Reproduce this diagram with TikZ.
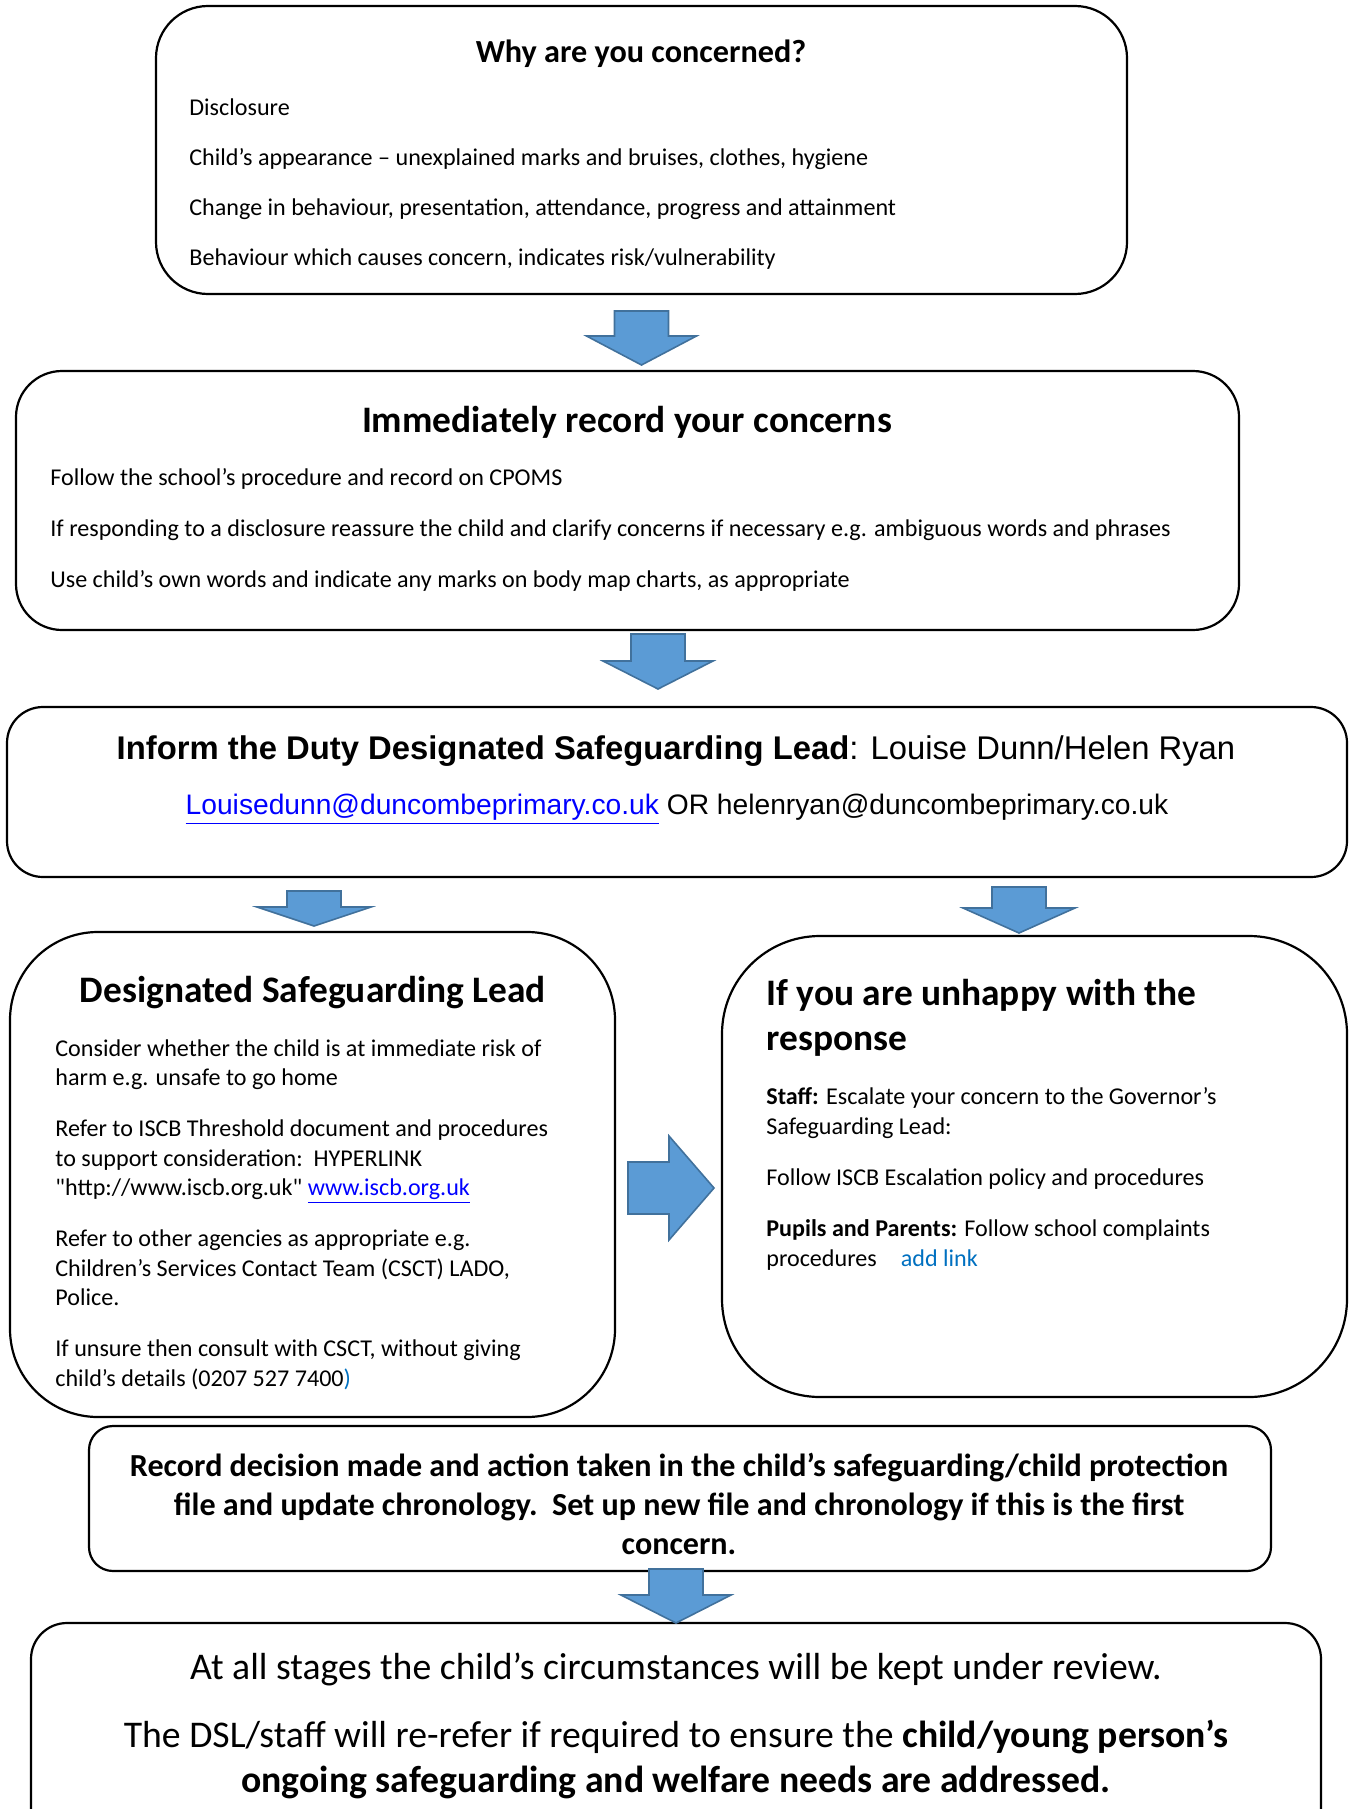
\documentclass[tikz,border=0pt]{standalone}
\usepackage{fontspec}
\setmainfont{Carlito}[Ligatures=TeXOff]
\newfontfamily\arialfont{Liberation Sans}
\usetikzlibrary{positioning,fit,calc}
\definecolor{arrowblue}{RGB}{91,155,213}
\definecolor{arrowedge}{RGB}{65,113,156}
\definecolor{linkblue}{RGB}{0,0,255}
\definecolor{addlink}{RGB}{0,112,192}
\tikzset{
 box/.style={draw=black,line width=1.1pt,inner sep=0pt,outer sep=0pt},
 body/.style={anchor=west,align=left,inner sep=0pt,font=\fontsize{12.05}{14.75}\selectfont},
 head/.style={inner sep=0pt,font=\fontsize{18.7}{22.5}\selectfont\bfseries},
 arr/.style={fill=arrowblue,draw=arrowedge,line width=0.8pt,line join=miter},
 pics/downarr/.style n args={3}{code={\draw[arr] (-27,0) -- (27,0) -- (27,#1) -- (#3,#1) -- (0,#2) -- (-#3,#1) -- (-27,#1) -- cycle;}},
 pics/rightarr/.style={code={\draw[arr] (0,-26) -- (41,-26) -- (41,-52) -- (86,0) -- (41,52) -- (41,26) -- (0,26) -- cycle;}}
}
\begin{document}
\begin{tikzpicture}[x=0.5pt,y=-0.5pt]
\useasboundingbox (0,0) rectangle (1352,1809);
\node[box,rounded corners=26pt,fit={(156,6) (1127,294)}] (why) {};
\node[inner sep=0pt,font=\fontsize{16.1}{19}\selectfont\bfseries] (whyT) at (641,54) {Why are you concerned?};
\node[body,font=\fontsize{12.05}{25}\selectfont] (whyB) at (189,184.5) {Disclosure\\Child’s appearance – unexplained marks and bruises, clothes, hygiene\\Change in behaviour, presentation, attendance, progress and attainment\\Behaviour which causes concern, indicates risk/vulnerability};

\node[box,rounded corners=23pt,fit={(16,371) (1239,630)}] (rec) {};
\node[head] (recT) at (627,422) {Immediately record your concerns};
\node[body,font=\fontsize{12.05}{25.5}\selectfont] (recB) at (50,530) {Follow the school’s procedure and record on CPOMS\\If responding to a disclosure reassure the child and clarify concerns if necessary e.g. ambiguous words and phrases\\Use child’s own words and indicate any marks on body map charts, as appropriate};

\node[box,rounded corners=18pt,fit={(7,707) (1347,877)}] (inform) {};
\node[inner sep=0pt,font=\arialfont\fontsize{16.4}{20}\selectfont] (informT) at (676,751.5) {\textbf{Inform the Duty Designated Safeguarding Lead}: Louise Dunn/Helen Ryan};
\node[inner sep=0pt,font=\arialfont\fontsize{14.1}{17}\selectfont] (informE) at (677,809.5) {\textcolor{linkblue}{\underline{Louisedunn@duncombeprimary.co.uk}} OR helenryan@duncombeprimary.co.uk};

\node[box,rounded corners=44pt,fit={(10,932) (615,1417)}] (dsl) {};
\node[head] (dslT) at (313,993) {Designated Safeguarding Lead};
\node[body] (dslB) at (55,1214.5) {Consider whether the child is at immediate risk of\\harm e.g. unsafe to go home\\[10.75pt]Refer to ISCB Threshold document and procedures\\to support consideration:\ \ HYPERLINK\\"http://www.iscb.org.uk" \textcolor{linkblue}{\underline{www.iscb.org.uk}}\\[10.75pt]Refer to other agencies as appropriate e.g.\\Children’s Services Contact Team (CSCT) LADO,\\Police.\\[10.75pt]If unsure then consult with CSCT, without giving\\child’s details (0207 527 7400\textcolor{addlink}{)}};

\node[box,rounded corners=49pt,fit={(722,936) (1347,1397)}] (unhappy) {};
\node[head,anchor=west,align=left] (unhappyT) at (766,1018) {If you are unhappy with the\\response};
\node[body,font=\fontsize{12.05}{15}\selectfont] (unhappyB) at (766,1178.5) {\textbf{Staff:} Escalate your concern to the Governor’s\\Safeguarding Lead:\\[10.5pt]Follow ISCB Escalation policy and procedures\\[10.5pt]\textbf{Pupils and Parents:} Follow school complaints\\procedures\quad\textcolor{addlink}{add link}};

\node[box,rounded corners=12pt,fit={(89,1426) (1271,1571)}] (decision) {};
\node[inner sep=0pt,align=center,font=\fontsize{16.05}{19.5}\selectfont\bfseries] (decisionT) at (679,1504) {Record decision made and action taken in the child’s safeguarding/child protection\\file and update chronology.\ \ Set up new file and chronology if this is the first\\concern.};

\node[box,rounded corners=18pt,fit={(31,1623) (1321,1950)}] (review) {};
\node[inner sep=0pt,font=\fontsize{18.85}{22.5}\selectfont] (reviewA) at (676,1669) {At all stages the child’s circumstances will be kept under review.};
\node[inner sep=0pt,align=center,font=\fontsize{18.85}{22.5}\selectfont] (reviewB) at (676,1759) {The DSL/staff will re-refer if required to ensure the \textbf{child/young person’s}\\\textbf{ongoing safeguarding and welfare needs are addressed.}};

\pic at ($(why.south)+(0,17)$) {downarr={25}{54}{55}};
\pic at ($(rec.south)+(30.5,4)$) {downarr={27}{55}{55}};
\pic at ($(dsl.north)+(1.5,-41)$) {downarr={16}{35}{57}};
\pic at ($(unhappy.north)+(-15.5,-49)$) {downarr={21}{46}{56}};
\pic at ($(dsl.east)+(13,13.5)$) {rightarr};
\pic at ($(review.north)+(0,-54)$) {downarr={26}{54}{55}};
\end{tikzpicture}
\end{document}
